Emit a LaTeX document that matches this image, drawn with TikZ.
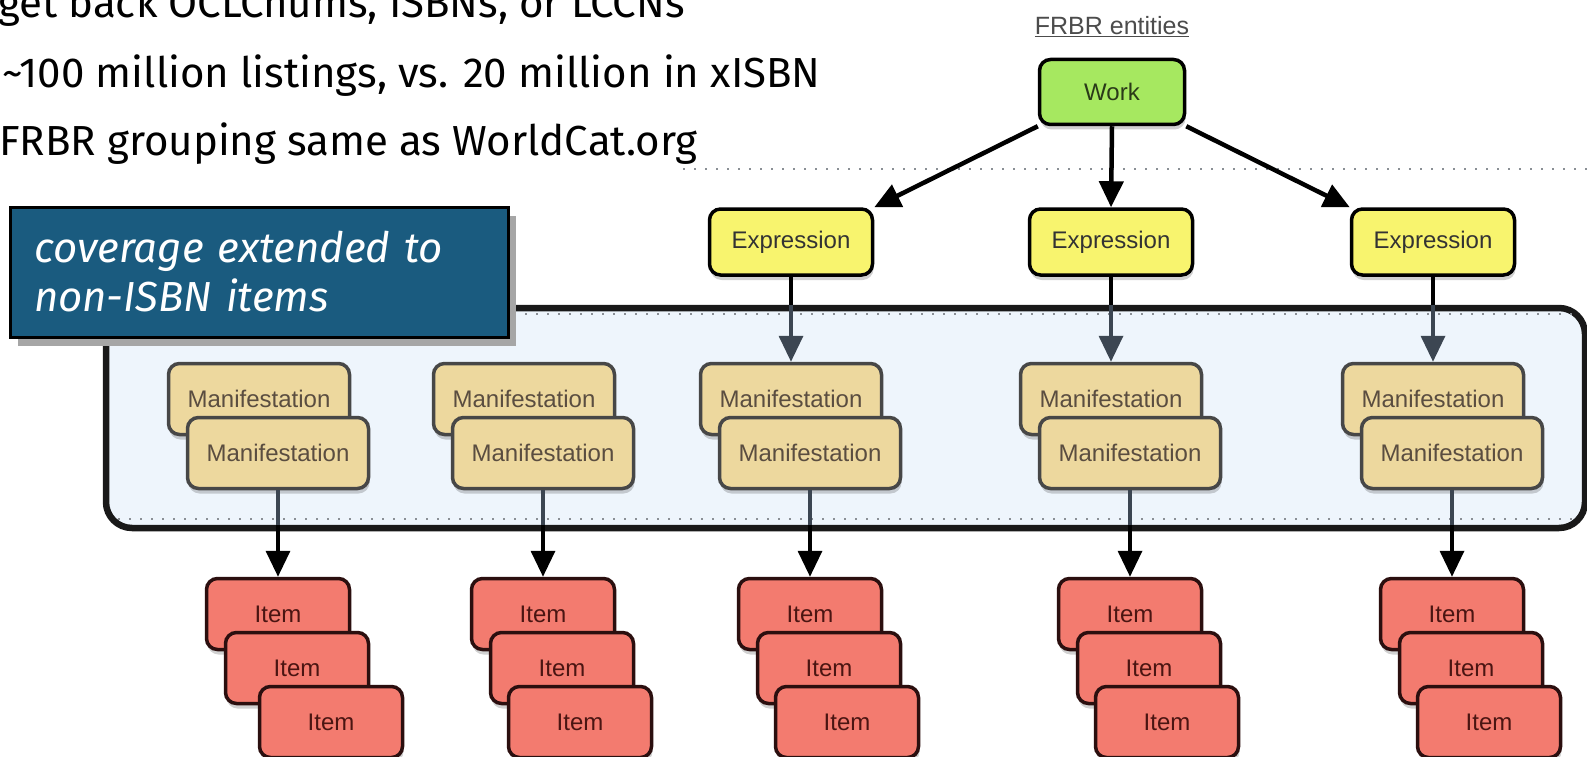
\documentclass[tikz,border=0pt]{standalone}
\usepackage{fontspec}
\setmainfont{Fira Sans}
\newfontfamily\diagfont{Liberation Sans}
\usetikzlibrary{arrows.meta,shadows}
\definecolor{workgreen}{HTML}{A6E860}
\definecolor{exyellow}{HTML}{F8F46E}
\definecolor{manfill}{HTML}{EDD89E}
\definecolor{manborder}{HTML}{474747}
\definecolor{mantext}{HTML}{5A4D40}
\definecolor{itemfill}{HTML}{F37B6F}
\definecolor{itemborder}{HTML}{2B0F0F}
\definecolor{itemtext}{HTML}{4A1512}
\definecolor{boxfill}{HTML}{EEF5FC}
\definecolor{callblue}{HTML}{1A5B7F}
\definecolor{arrowgray}{HTML}{3C4652}
\definecolor{dotgray}{HTML}{8A8F95}
\begin{document}
\begin{tikzpicture}[x=1pt,y=-1pt,
  ent/.style={draw, line width=3.5pt, rounded corners=11pt, inner sep=0pt,
    font=\diagfont\fontsize{24}{28}\selectfont,
    drop shadow={shadow xshift=1pt, shadow yshift=-5pt, opacity=0.18, fill=black}},
  workbox/.style={ent, fill=workgreen, draw=black, text=workgreen!25!black, minimum width=145pt, minimum height=65pt},
  exprbox/.style={ent, fill=exyellow, draw=black, text=black!80, minimum width=163pt, minimum height=66pt},
  manbox/.style={ent, fill=manfill, draw=manborder, text=mantext, minimum width=181pt, minimum height=71pt},
  itembox/.style={ent, fill=itemfill, draw=itemborder, text=itemtext, minimum width=143pt, minimum height=71pt},
  bullet/.style={anchor=base west, inner sep=0pt, font=\fontsize{42}{50}\selectfont},
  bigarrow/.style={line width=4.5pt, -{Triangle[length=26pt,width=24pt]}},
  grayarrow/.style={line width=3.5pt, draw=arrowgray, -{Triangle[length=26pt,width=24pt]}},
  blackline/.style={line width=3.5pt, draw=black},
  grayline/.style={line width=3.5pt, draw=arrowgray},
  dotline/.style={draw=dotgray, line width=2pt, dash pattern=on 2pt off 9pt}
]
\useasboundingbox (0,0) rectangle (1587,757);
\fill[white] (0,0) rectangle (1587,757);

% bullet text
\node[bullet] (t1) at (-2,18) {get back OCLCnums, ISBNs, or LCCNs};
\node[bullet] (t2) at (2,88) {\textasciitilde 100 million listings, vs. 20 million in xISBN};
\node[bullet] (t3) at (-1,155) {FRBR grouping same as WorldCat.org};

% coverage region
\node[draw=black!90, line width=6.5pt, rounded corners=26pt, fill=boxfill,
  minimum width=1479pt, minimum height=220pt, inner sep=0pt] (cov) at (845.5,418) {};
\coordinate (d1a) at (683,169);
\coordinate (d1b) at (1587,169);
\draw[dotline] (d1a) -- (d1b);
\coordinate (d2a) at (118,314);
\coordinate (d2b) at (1575,314);
\draw[dotline] (d2a) -- (d2b);
\coordinate (d3a) at (118,519);
\coordinate (d3b) at (1575,519);
\draw[dotline] (d3a) -- (d3b);

% header
\node[font=\diagfont\fontsize{25}{28}\selectfont, text=black!70, inner sep=0pt] (hdr) at (1112,27) {\underline{FRBR entities}};

% work and expressions
\node[workbox] (work) at (1112,92) {Work};
\node[exprbox] (e1) at (791,242) {Expression};
\node[exprbox] (e2) at (1111,242) {Expression};
\node[exprbox] (e3) at (1433,242) {Expression};
\draw[bigarrow] (work.south west) -- (e1.north east);
\draw[bigarrow] (work.south) -- (e2.north);
\draw[bigarrow] (work.south east) -- (e3.north west);

% manifestation groups
\foreach \n/\fx in {1/278, 2/543, 3/810, 4/1130, 5/1452} {
  \node[manbox] (mb\n) at (\fx-19,399) {Manifestation};
  \node[manbox] (mf\n) at (\fx,453) {Manifestation};
  \node[itembox] (ia\n) at (\fx,614) {Item};
  \node[itembox] (ib\n) at (\fx+19,668) {Item};
}
\node[itembox] (ic1) at (331,722) {Item};
\foreach \n/\fx in {2/543, 3/810, 4/1130, 5/1452} {
  \node[itembox] (ic\n) at (\fx+37,722) {Item};
}

% expression to manifestation arrows
\foreach \e/\m in {1/3, 2/4, 3/5} {
  \draw[grayarrow] (e\e.south) -- (mb\m.north);
  \draw[blackline] (e\e.south) -- (e\e.south |- cov.north);
}
% manifestation to item arrows
\foreach \n in {1,...,5} {
  \draw[bigarrow, line width=3.5pt] (mf\n.south) -- (ia\n.north);
  \draw[grayline] (mf\n.south) -- ([yshift=6pt]mf\n.south |- cov.south);
}

% callout
\node[draw=black, line width=3pt, fill=callblue, text=white,
  minimum width=498pt, minimum height=130pt, inner xsep=24pt,
  text width=450pt, align=left,
  font=\itshape\fontsize{42}{49}\selectfont,
  drop shadow={shadow xshift=8pt, shadow yshift=-9pt, opacity=1, fill=black!35}]
  (call) at (259,272) {coverage extended to\\non-ISBN items};
\end{tikzpicture}
\end{document}
